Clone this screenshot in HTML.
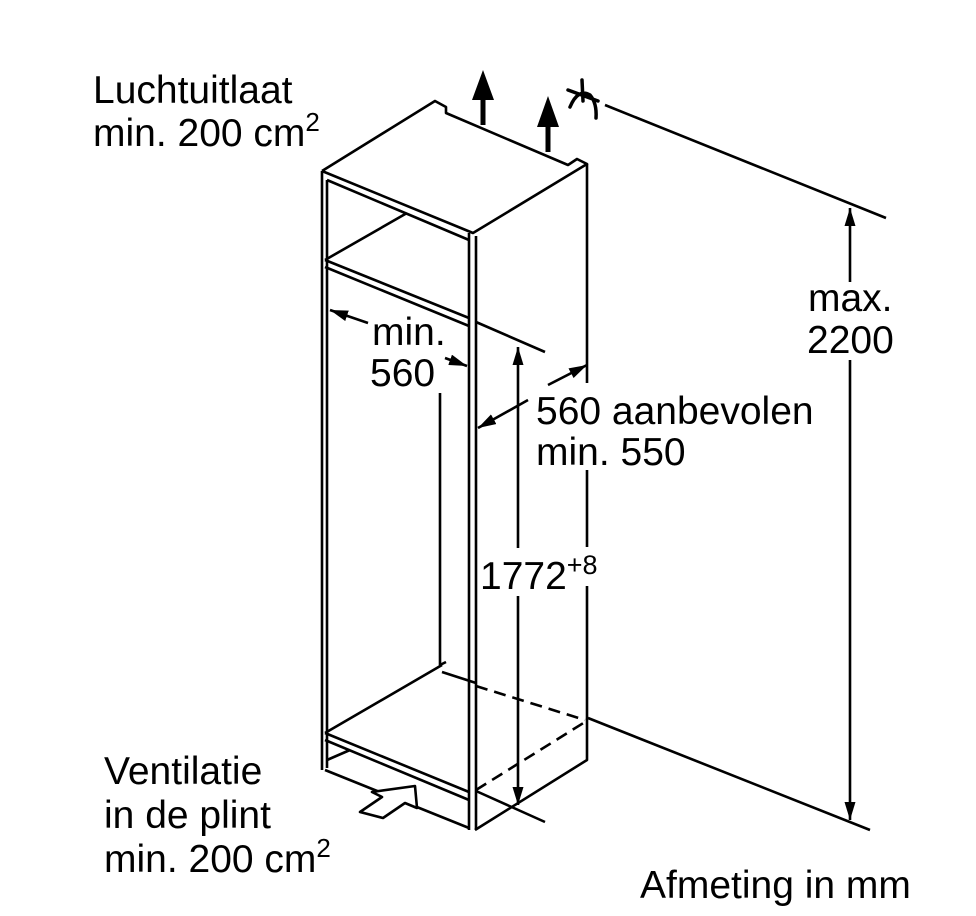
<!DOCTYPE html>
<html><head><meta charset="utf-8"><style>
html,body{margin:0;padding:0;background:#fff;}
svg{display:block;}
text{font-family:"Liberation Sans",sans-serif;font-size:39px;fill:#000;}
</style></head><body>
<svg width="976" height="916" viewBox="0 0 976 916" xmlns="http://www.w3.org/2000/svg">
<defs>
<marker id="a" viewBox="0 0 10 10" refX="10" refY="5" markerWidth="18" markerHeight="11" orient="auto-start-reverse" markerUnits="userSpaceOnUse" preserveAspectRatio="none"><path d="M0,0 L10,5 L0,10 z" fill="#000"/></marker>
</defs>
<g fill="none" stroke="#000" stroke-width="2.6" stroke-linejoin="round">
<path d="M322,171 L435,101 L446,107 L446,113 L568,165 L577,159 L587,164 L473,233 L322,171"/>
<path d="M587,164 L587,383 M587,470 L587,547 M587,586 L587,760 L475,830"/>
<path d="M469,233 L469,830 M476,236 L476,830"/>
<path d="M322,171 L322,770 M327,180 L327,768"/>
<path d="M327,180 L469,240 M325,260 L469,318 M325,267 L469,326 M325,260 L407,213"/>
<path d="M440,393 L440,665 L446,662"/>
<path d="M325,733 L442,665 M442,672 L476,683 M325,733 L469,792 M325,740 L469,800 M325,770 L469,828 M327,760 L350,750"/>
<path d="M476,686 L585,720 M476,790 L585,722" stroke-dasharray="12,7"/>
<path d="M476,791 L545,822 M588,718 L870,830"/>
<path d="M476,322 L545,352 M605,105 L886,218"/>
<path d="M518,347 L518,548" marker-start="url(#a)"/>
<path d="M518,596 L518,805" marker-end="url(#a)"/>
<path d="M850,208 L850,282" marker-start="url(#a)"/>
<path d="M850,360 L850,820" marker-end="url(#a)"/>
<path d="M548,385 L587,365" marker-end="url(#a)"/>
<path d="M528,400 L478,428" marker-end="url(#a)"/>
<path d="M368,323 L330,310" marker-end="url(#a)"/>
<path d="M445,358 L467,366" marker-end="url(#a)"/>
<path d="M360,812 L382,797 L372,792 L415,786 L417,808 L405,803 L383,818 Z" fill="#fff"/>
<path d="M483,125 L483,98 M548,152 L548,124" stroke-width="5"/>
<path d="M582,80 L583,101 M568,90 L598,101 M570,107 Q578,88 590,95 Q597,103 596,118" stroke-width="3.5" stroke-linecap="round"/>
</g>
<path d="M483,70 L494,100 L472,100 Z M548,96 L559,127 L537,127 Z" fill="#000"/>
<text x="93" y="103">Luchtuitlaat</text>
<text x="93" y="146">min. 200 cm<tspan font-size="26" dy="-15">2</tspan></text>
<text x="372" y="345">min.</text>
<text x="370" y="386">560</text>
<text x="536" y="424">560 aanbevolen</text>
<text x="536" y="465">min. 550</text>
<text x="480" y="589">1772<tspan font-size="27" dy="-15">+8</tspan></text>
<text x="808" y="311">max.</text>
<text x="807" y="353">2200</text>
<text x="104" y="784">Ventilatie</text>
<text x="104" y="828">in de plint</text>
<text x="104" y="872">min. 200 cm<tspan font-size="26" dy="-15">2</tspan></text>
<text x="640" y="898">Afmeting in mm</text>
</svg>
</body></html>
